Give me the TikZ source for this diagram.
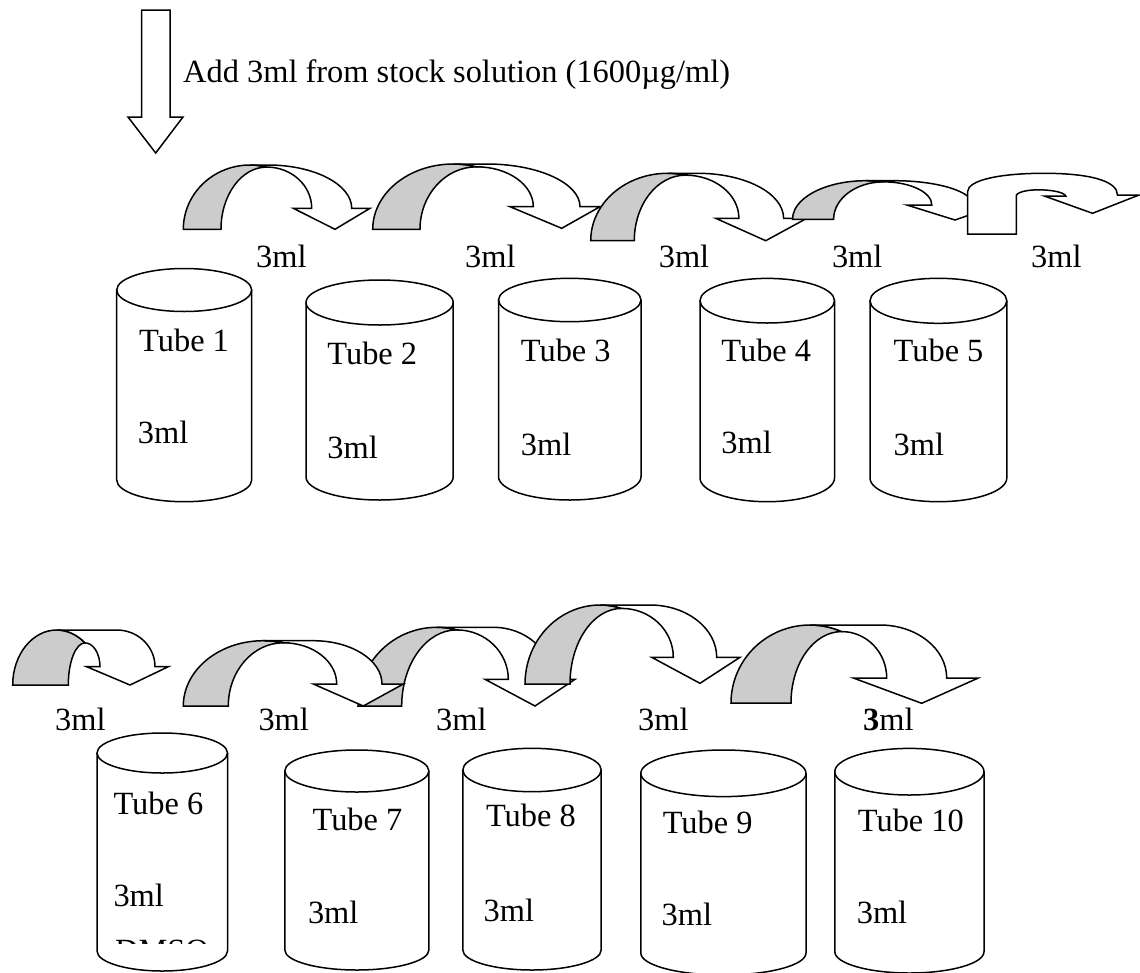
\documentclass[tikz,border=0pt]{standalone}
\usepackage{fontspec}
\setmainfont{Liberation Serif}
\begin{document}
\begin{tikzpicture}[x=1pt,y=1pt,
  band/.style={draw=black,line width=1.5pt,line join=miter},
  grayband/.style={band,fill=black!20},
  whiteband/.style={band,fill=white},
  tubeline/.style={draw=black,line width=1.5pt},
  lbl/.style={anchor=base west,inner sep=0pt,font=\fontsize{32.4}{39}\selectfont}]
\useasboundingbox (0,0) rectangle (1140,-972);

% ---- big down arrow and heading
\draw[whiteband] (141.7,-10) -- (170,-10) -- (170,-117) -- (183,-117) -- (155.7,-153) -- (128,-117) -- (141.7,-117) -- cycle;
\node[lbl] (head) at (183,-82) {Add 3ml from stock solution (1600µg/ml)};

% ---- tubes
\foreach \n/\xl/\xr/\ytc/\ryt/\ybc/\ryb in {
  1/116.7/251.7/290/21.5/480/21.7,
  2/306/453.2/302.5/22.5/477/23,
  3/498.5/641/300/21.7/476.7/23.3,
  4/700/834.5/300.7/22.3/478/23.7,
  5/870/1006.8/300.8/22.5/478/23.7,
  6/97/227.5/753/20/951/20,
  7/284.8/428.9/771/21/950/20,
  8/462.8/601.2/770/21.7/950/20,
  9/640.8/806/773.3/23.3/953/22,
  10/834.8/984/771.7/23.3/951.7/21.3}{
  \pgfmathsetmacro\rx{(\xr-\xl)/2}
  \pgfmathsetmacro\cx{(\xr+\xl)/2}
  \draw[tubeline,fill=white] (\xl,-\ytc) -- (\xl,-\ybc) arc[start angle=180,end angle=360,x radius=\rx,y radius=\ryb] -- (\xr,-\ytc);
  \draw[tubeline] (\cx,-\ytc) ellipse[x radius=\rx,y radius=\ryt];
}

% ---- tube texts
\foreach \n/\xa/\ya/\xb/\yb in {
  1/139/351/137.7/443.3,
  2/327.2/364.3/327.2/458.3,
  3/520.7/361.7/520.7/455,
  4/721.2/361.7/721.2/453.3,
  5/893.5/361.7/893.5/455,
  6/113.3/814/113.3/906.7,
  7/312.4/830/307.8/923.3,
  8/485.8/826.7/483.5/921.7,
  9/662.6/833.3/661.4/925,
  10/857.7/831.7/856.6/923.3}{
  \node[lbl] (tube\n) at (\xa,-\ya) {Tube \n};
  \node[lbl] (vol\n) at (\xb,-\yb) {3ml};
}
\begin{scope}
  \clip (100,-930) rectangle (226,-943.5);
  \node[lbl] (dmso) at (115,-961) {DMSO};
\end{scope}

% ---- curved transfer arrows
% A, B, yB, T, yT, M, xC, yH, O, I, WL, WR, tipx, tipy
\foreach \qA/\qB/\qY/\qT/\qYT/\qM/\qC/\qH/\qO/\qI/\qL/\qR/\qX/\qZ in {
  183.3/221/229.3/250/165/266.7/268/208.3/351.7/311.7/293.3/370/335/229.3,
  372.7/420/229.3/453.3/164/476.7/486.7/206.7/580/533.3/510/600/561.7/228.3,
  590.7/634.3/240.7/667.5/173.3/685.4/697.9/218.3/783.6/738.9/715.7/806.8/765.7/240.7,
  792.5/833.6/219.3/865.7/180.7/883.6/894.3/205/973/931.8/906.8/998/955/220,
  731/791/703/810/625/841.7/880/678/946.7/886.7/853.3/978.3/921.7/703.3,
  358/401.7/706/436.7/627.3/456.7/493.3/679.3/552/508.3/485/575/535/706,
  525/570/684/600/605/621.7/650/657.3/716.7/673.3/651.7/740/700/683.3,
  183.3/228.3/706/263.3/640.7/283.3/313.3/684/382/336.7/313.3/403.3/363.3/706,
  12.7/68.3/685/56.7/630/85/116.7/666.7/155/100/86.7/168.3/130/685}{
  \pgfmathsetmacro\grx{\qT-\qA}
  \pgfmathsetmacro\gry{\qY-\qYT}
  \pgfmathsetmacro\thm{acos((\qM-\qT)/\grx)}
  \pgfmathsetmacro\ym{\qY-\gry*sin(\thm)}
  \pgfmathsetmacro\girx{\qM-\qB}
  \pgfmathsetmacro\giry{\qY-\ym}
  \pgfmathsetmacro\worx{\qO-\qC}
  \pgfmathsetmacro\wory{\qH-\qYT}
  \pgfmathsetmacro\wirx{\qI-\qM}
  \pgfmathsetmacro\wiry{\qH-\ym}
  \draw[grayband] (\qA,-\qY) arc[start angle=180,end angle=\thm,x radius=\grx,y radius=\gry]
     arc[start angle=90,end angle=180,x radius=\girx,y radius=\giry] -- cycle;
  \draw[whiteband] (\qT,-\qYT) -- (\qC,-\qYT)
     arc[start angle=90,end angle=0,x radius=\worx,y radius=\wory]
     -- (\qR,-\qH) -- (\qX,-\qZ) -- (\qL,-\qH) -- (\qI,-\qH)
     arc[start angle=0,end angle=90,x radius=\wirx,y radius=\wiry]
     arc[start angle=\thm,end angle=90,x radius=\grx,y radius=\gry] -- cycle;
}

% ---- U-turn arrow (last of top row)
\draw[whiteband] (967.5,-234) -- (967.5,-192)
  .. controls (967.5,-180) and (1000,-173.3) .. (1044,-173.3)
  .. controls (1090,-173.3) and (1117.5,-181) .. (1117.5,-195)
  -- (1139,-195) -- (1092.5,-213.3) -- (1044.3,-196) -- (1065.7,-196)
  .. controls (1063,-189) and (1022,-187) .. (1016.4,-195)
  -- (1016.4,-234) -- cycle;

% ---- transfer volume labels
\foreach \n/\x/\y in {1/256/267,2/465/267,3/658.6/267,4/831.8/267,5/1031/267,
                      6/55/730,7/258.3/730,8/436/730,9/638/730}{
  \node[lbl] (tr\n) at (\x,-\y) {3ml};
}
\node[lbl] (tr10) at (863,-730) {\textbf{3}ml};
\end{tikzpicture}
\end{document}
